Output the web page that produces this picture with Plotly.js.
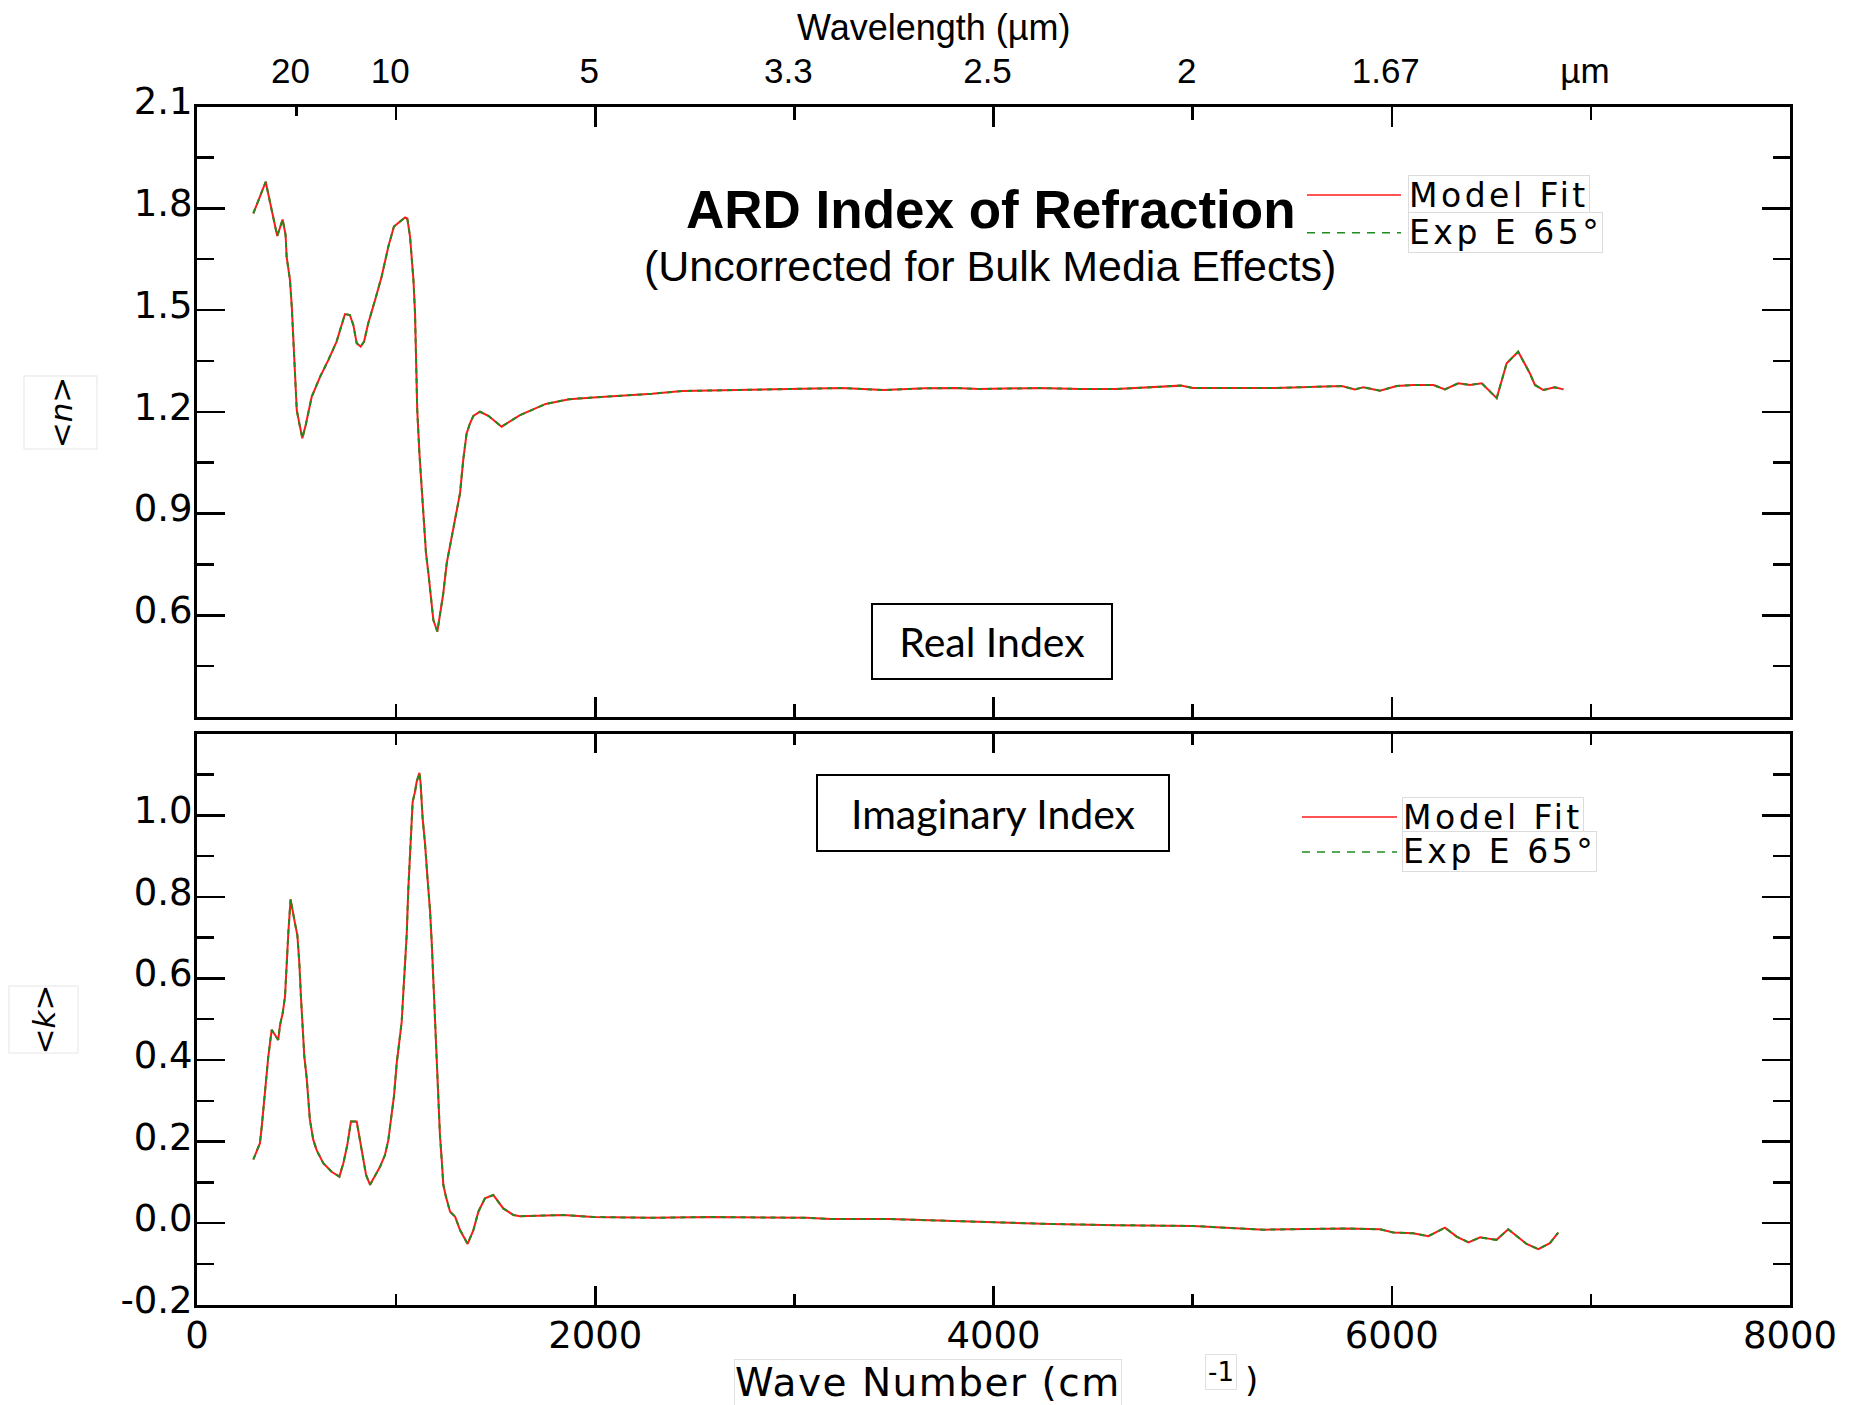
<!DOCTYPE html>
<html>
<head>
<meta charset="utf-8">
<script src="https://cdn.plot.ly/plotly-3.0.1.min.js"></script>
<style>
  html, body { margin: 0; padding: 0; background: #ffffff; }
  #chart { width: 1851px; height: 1405px; }
  text[data-unformatted="Model Fit"], text[data-unformatted="Exp E 65°"] { letter-spacing: 3.5px; }
  text[data-unformatted="Wave Number (cm"] { letter-spacing: 1.5px; }
</style>
</head>
<body>
<div id="chart"></div>
<script>
// ---- Data: real index <n> vs wave number (cm^-1) ----
const wnN = [283,345,375,403,430,445,450,467,476,484,492,501,512,529,546,576,618,660,701,727,743,768,785,802,822,839,860,894,927,961,989,1045,1056,1070,1078,1087,1095,1100,1106,1117,1128,1140,1150,1162,1174,1187,1207,1220,1237,1254,1274,1296,1321,1337,1354,1371,1388,1421,1463,1530,1572,1622,1751,1869,1989,2285,2436,2883,3239,3448,3656,3810,3927,4227,4434,4615,4941,5002,5418,5749,5815,5857,5941,6025,6108,6209,6267,6334,6393,6452,6476,6527,6577,6635,6694,6719,6761,6819,6862];
const nModel = [1.785,1.878,1.795,1.718,1.767,1.721,1.657,1.588,1.510,1.402,1.294,1.205,1.171,1.122,1.161,1.244,1.303,1.353,1.407,1.456,1.488,1.485,1.456,1.402,1.392,1.407,1.461,1.529,1.598,1.687,1.746,1.773,1.770,1.716,1.657,1.588,1.490,1.353,1.205,1.077,0.974,0.876,0.783,0.724,0.665,0.586,0.552,0.606,0.665,0.753,0.812,0.881,0.960,1.058,1.136,1.166,1.188,1.200,1.188,1.156,1.171,1.190,1.223,1.237,1.242,1.253,1.261,1.267,1.270,1.264,1.269,1.270,1.267,1.270,1.267,1.267,1.277,1.270,1.270,1.276,1.266,1.272,1.262,1.276,1.279,1.279,1.266,1.284,1.279,1.284,1.269,1.240,1.343,1.377,1.313,1.279,1.264,1.272,1.266];
const nExp = nModel;   // experiment trace overlays the model fit

// ---- Data: imaginary index <k> vs wave number (cm^-1) ----
const wnK = [283,300,316,325,341,358,375,392,408,417,430,442,450,459,470,480,492,504,514,522,531,539,551,567,584,601,634,676,715,735,755,773,802,815,832,849,869,894,919,944,961,978,989,1003,1016,1028,1036,1045,1053,1061,1073,1083,1095,1103,1117,1123,1133,1145,1157,1170,1179,1187,1196,1204,1212,1220,1229,1237,1250,1271,1296,1321,1359,1388,1413,1446,1488,1538,1589,1622,1840,1989,2286,2584,3061,3180,3478,3656,3987,4287,4615,5002,5358,5539,5639,5774,5941,6008,6108,6184,6267,6326,6385,6444,6485,6526,6585,6677,6736,6794,6836];
const kModel = [0.156,0.179,0.196,0.236,0.318,0.408,0.474,0.461,0.449,0.486,0.514,0.555,0.637,0.715,0.794,0.764,0.735,0.706,0.637,0.555,0.474,0.408,0.355,0.253,0.204,0.179,0.147,0.126,0.114,0.147,0.192,0.249,0.249,0.212,0.171,0.118,0.094,0.118,0.138,0.167,0.204,0.269,0.310,0.392,0.449,0.494,0.564,0.629,0.706,0.817,0.927,1.033,1.058,1.082,1.104,1.078,0.993,0.931,0.849,0.768,0.686,0.596,0.490,0.384,0.282,0.216,0.155,0.094,0.065,0.028,0.016,-0.017,-0.051,-0.017,0.028,0.061,0.069,0.036,0.020,0.017,0.020,0.015,0.013,0.015,0.013,0.010,0.010,0.007,0.002,-0.002,-0.005,-0.007,-0.016,-0.015,-0.013,-0.013,-0.015,-0.023,-0.025,-0.032,-0.011,-0.033,-0.047,-0.035,-0.038,-0.041,-0.015,-0.051,-0.064,-0.049,-0.023];
const kExp = kModel;

// ---- Tick labels ----
const wnTickVals = [0,2000,4000,6000,8000];
const wnTickText = ['0','2000','4000','6000','8000'];
const wnMinorVals = [1000,3000,5000,7000];
const lamTickVals = [500,1000,2000,3000,4000,5000,6000,7000];
const lamTickText = ['20','10','5','3.3','2.5','2','1.67','µm'];
const nTickVals = [0.6,0.9,1.2,1.5,1.8,2.1];
const nTickText = ['0.6','0.9','1.2','1.5','1.8','2.1'];
const nMinorVals = [0.45,0.75,1.05,1.35,1.65,1.95];
const kTickVals = [-0.2,0,0.2,0.4,0.6,0.8,1.0];
const kTickText = ['-0.2','0.0','0.2','0.4','0.6','0.8','1.0'];
const kMinorVals = [-0.1,0.1,0.3,0.5,0.7,0.9,1.1];
const seriesNames = ['Model Fit','Exp E 65°'];

const RED = '#ff1a1a', GREEN = '#1e8c1e';
const W = 1851, H = 1405;
const px = v => v / W, py = v => 1 - v / H;

const XDOM = [px(197), px(1790)];
const TOPDOM = [py(717), py(106.5)];
const BOTDOM = [py(1304.7), py(733.7)];

const tickFont = {family: 'DejaVu Sans, Liberation Sans, sans-serif', size: 37, color: '#000'};
const legFont = {family: 'DejaVu Sans, sans-serif', size: 33, color: '#000'};

const traces = [
  {x: wnN, y: nModel, xaxis: 'x2', yaxis: 'y', mode: 'lines', name: seriesNames[0],
   line: {color: RED, width: 2}, showlegend: false},
  {x: wnN, y: nExp, xaxis: 'x2', yaxis: 'y', mode: 'lines', name: seriesNames[1],
   line: {color: GREEN, width: 2, dash: '5px,5px'}, showlegend: false},
  {x: wnK, y: kModel, xaxis: 'x', yaxis: 'y2', mode: 'lines', name: seriesNames[0],
   line: {color: RED, width: 2}, showlegend: false},
  {x: wnK, y: kExp, xaxis: 'x', yaxis: 'y2', mode: 'lines', name: seriesNames[1],
   line: {color: GREEN, width: 2, dash: '5px,5px'}, showlegend: false},
  // invisible carrier so the wavelength (top) axis is drawn
  {x: wnN, y: nModel, xaxis: 'x3', yaxis: 'y', mode: 'lines', line: {width: 0},
   opacity: 0, showlegend: false, hoverinfo: 'skip'}
];

const frame = {showline: true, linecolor: '#000', linewidth: 3, mirror: 'ticks',
  showgrid: false, zeroline: false, ticks: 'inside', tickcolor: '#000', tickwidth: 2.5};

const layout = {
  width: W, height: H,
  margin: {l: 0, r: 0, t: 0, b: 0},
  paper_bgcolor: '#fff', plot_bgcolor: '#fff',
  showlegend: false,
  xaxis: Object.assign({}, frame, {
    domain: XDOM, anchor: 'y2', range: [0, 8000],
    tickmode: 'array', tickvals: wnTickVals, ticktext: wnTickText, ticklen: 19,
    minor: {tickmode: 'array', tickvals: wnMinorVals, ticklen: 11, ticks: 'inside', tickcolor: '#000', tickwidth: 2.5},
    tickfont: tickFont, ticklabelstandoff: -4
  }),
  xaxis2: Object.assign({}, frame, {
    domain: XDOM, anchor: 'y', range: [0, 8000],
    tickmode: 'array', tickvals: wnTickVals, ticklen: 20, showticklabels: false,
    minor: {tickmode: 'array', tickvals: wnMinorVals, ticklen: 13, ticks: 'inside', tickcolor: '#000', tickwidth: 2.5}
  }),
  xaxis3: {
    overlaying: 'x2', anchor: 'y', side: 'top', range: [0, 8000],
    showline: false, showgrid: false, zeroline: false,
    ticks: 'inside', ticklen: 9, tickwidth: 2.5, tickcolor: '#000',
    tickmode: 'array', tickvals: lamTickVals, ticktext: lamTickText,
    tickfont: {family: 'Liberation Sans, Arial, sans-serif', size: 35, color: '#000'},
    ticklabelstandoff: 16, ticklabelshift: -6
  },
  yaxis: Object.assign({}, frame, {
    domain: TOPDOM, anchor: 'x2', range: [0.3, 2.1],
    tickmode: 'array', tickvals: nTickVals, ticktext: nTickText, ticklen: 28,
    minor: {tickmode: 'array', tickvals: nMinorVals, ticklen: 17, ticks: 'inside', tickcolor: '#000', tickwidth: 2.5},
    tickfont: tickFont, ticklabelstandoff: -6, ticklabelshift: -5
  }),
  yaxis2: Object.assign({}, frame, {
    domain: BOTDOM, anchor: 'x', range: [-0.2, 1.2],
    tickmode: 'array', tickvals: kTickVals, ticktext: kTickText, ticklen: 28,
    minor: {tickmode: 'array', tickvals: kMinorVals, ticklen: 17, ticks: 'inside', tickcolor: '#000', tickwidth: 2.5},
    tickfont: tickFont, ticklabelstandoff: -6, ticklabelshift: -5
  }),
  shapes: [
    {type: 'line', xref: 'paper', yref: 'paper', x0: px(1307), x1: px(1401), y0: py(195), y1: py(195), line: {color: RED, width: 1.5}},
    {type: 'line', xref: 'paper', yref: 'paper', x0: px(1307), x1: px(1401), y0: py(232.7), y1: py(232.7), line: {color: GREEN, width: 1.5, dash: '8px,7px'}},
    {type: 'line', xref: 'paper', yref: 'paper', x0: px(1302), x1: px(1397), y0: py(817), y1: py(817), line: {color: RED, width: 1.5}},
    {type: 'line', xref: 'paper', yref: 'paper', x0: px(1302), x1: px(1397), y0: py(852), y1: py(852), line: {color: GREEN, width: 1.5, dash: '8px,7px'}}
  ],
  annotations: [
    {xref: 'paper', yref: 'paper', x: px(991), y: py(209), xanchor: 'center', yanchor: 'middle', showarrow: false,
     text: '<b>ARD Index of Refraction</b>', font: {family: 'Liberation Sans, Arial, sans-serif', size: 53, color: '#000'}},
    {xref: 'paper', yref: 'paper', x: px(990), y: py(266), xanchor: 'center', yanchor: 'middle', showarrow: false,
     text: '(Uncorrected for Bulk Media Effects)', font: {family: 'Liberation Sans, Arial, sans-serif', size: 43, color: '#000'}},
    {xref: 'paper', yref: 'paper', x: px(933), y: py(27), xanchor: 'center', yanchor: 'middle', showarrow: false,
     text: 'Wavelength (µm)', font: {family: 'Liberation Sans, Arial, sans-serif', size: 36, color: '#000'}},
    {xref: 'paper', yref: 'paper', x: px(992), y: py(642), xanchor: 'center', yanchor: 'middle', showarrow: false,
     text: 'Real Index', font: {family: 'Lato, Noto Sans, sans-serif', size: 41, color: '#000'},
     bgcolor: '#fff', bordercolor: '#000', borderwidth: 2, borderpad: 0, width: 238, height: 73},
    {xref: 'paper', yref: 'paper', x: px(992.5), y: py(812.5), xanchor: 'center', yanchor: 'middle', showarrow: false,
     text: 'Imaginary Index', font: {family: 'Lato, Noto Sans, sans-serif', size: 41, color: '#000'},
     bgcolor: '#fff', bordercolor: '#000', borderwidth: 2, borderpad: 0, width: 350, height: 74},
    // legend texts (top panel)
    {xref: 'paper', yref: 'paper', x: px(1408), y: py(195), xanchor: 'left', yanchor: 'middle', showarrow: false, align: 'left',
     text: seriesNames[0], font: legFont, bgcolor: '#fff', bordercolor: '#dcdcdc', borderwidth: 1, borderpad: 0},
    {xref: 'paper', yref: 'paper', x: px(1408), y: py(232), xanchor: 'left', yanchor: 'middle', showarrow: false, align: 'left',
     text: seriesNames[1], font: legFont, bgcolor: '#fff', bordercolor: '#dcdcdc', borderwidth: 1, borderpad: 0},
    // legend texts (bottom panel)
    {xref: 'paper', yref: 'paper', x: px(1402), y: py(817), xanchor: 'left', yanchor: 'middle', showarrow: false, align: 'left',
     text: seriesNames[0], font: legFont, bgcolor: '#fff', bordercolor: '#dcdcdc', borderwidth: 1, borderpad: 0},
    {xref: 'paper', yref: 'paper', x: px(1402), y: py(851.5), xanchor: 'left', yanchor: 'middle', showarrow: false, align: 'left',
     text: seriesNames[1], font: legFont, bgcolor: '#fff', bordercolor: '#dcdcdc', borderwidth: 1, borderpad: 0},
    // y axis titles
    {xref: 'paper', yref: 'paper', x: px(60.5), y: py(412), xanchor: 'center', yanchor: 'middle', showarrow: false, textangle: -90,
     text: '&lt;<i>n</i>&gt;', font: {family: 'DejaVu Sans, sans-serif', size: 31, color: '#000'},
     bgcolor: '#fff', bordercolor: '#e6e6e6', borderwidth: 1, width: 70, height: 70},
    {xref: 'paper', yref: 'paper', x: px(43.5), y: py(1020), xanchor: 'center', yanchor: 'middle', showarrow: false, textangle: -90,
     text: '&lt;<i>k</i>&gt;', font: {family: 'DejaVu Sans, sans-serif', size: 31, color: '#000'},
     bgcolor: '#fff', bordercolor: '#e6e6e6', borderwidth: 1, width: 64, height: 66},
    // x axis title pieces
    {xref: 'paper', yref: 'paper', x: px(927.5), y: py(1382), xanchor: 'center', yanchor: 'middle', showarrow: false,
     text: 'Wave Number (cm', font: {family: 'DejaVu Sans, sans-serif', size: 39, color: '#000'},
     bgcolor: '#fff', bordercolor: '#e0e0e0', borderwidth: 1, borderpad: 0},
    {xref: 'paper', yref: 'paper', x: px(1221), y: py(1372), xanchor: 'center', yanchor: 'middle', showarrow: false,
     text: '-1', font: {family: 'DejaVu Sans, sans-serif', size: 26, color: '#000'},
     bgcolor: '#fff', bordercolor: '#e0e0e0', borderwidth: 1, borderpad: 2},
    {xref: 'paper', yref: 'paper', x: px(1251), y: py(1380), xanchor: 'center', yanchor: 'middle', showarrow: false,
     text: ')', font: {family: 'DejaVu Sans, sans-serif', size: 34, color: '#000'}}
  ]
};

Plotly.newPlot('chart', traces, layout, {displayModeBar: false, staticPlot: true});
</script>
</body>
</html>
